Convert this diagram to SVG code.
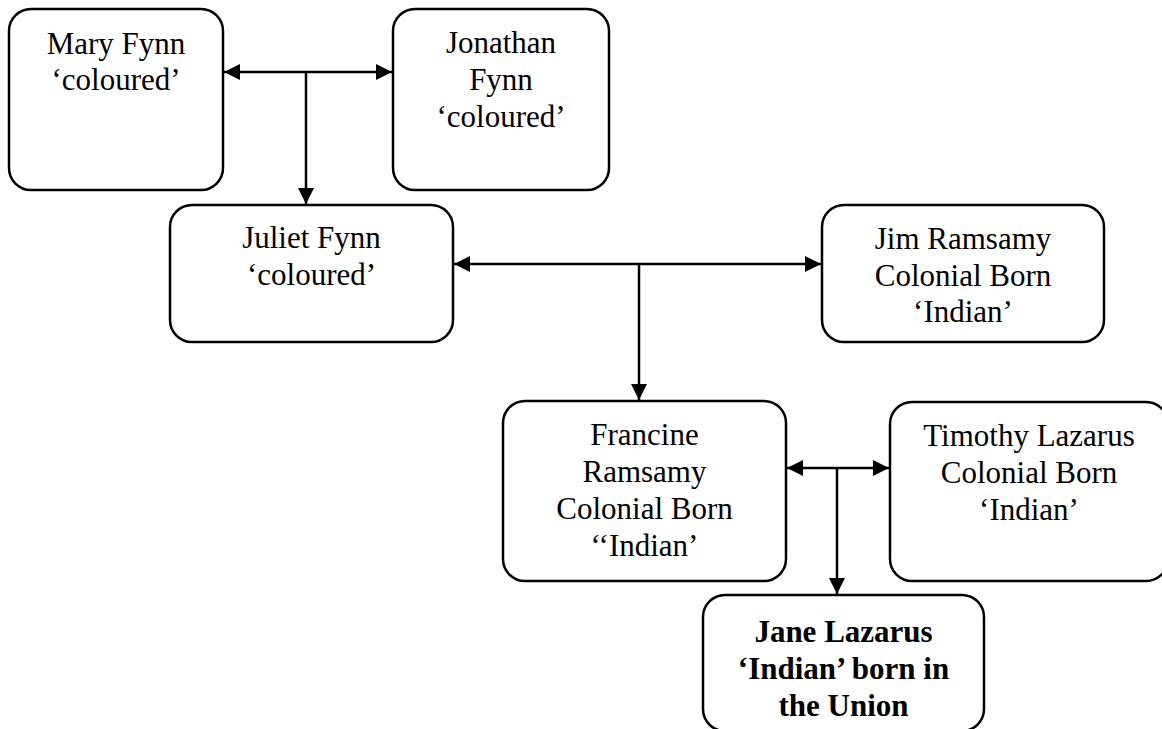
<svg xmlns="http://www.w3.org/2000/svg" width="1162" height="729" viewBox="0 0 1162 729">
<style>
.box{fill:#fff;stroke:#000;stroke-width:2.5}
.t{font-family:"Liberation Serif","Times New Roman",serif;font-size:31px;fill:#000;text-anchor:middle}
.b{font-weight:bold}
.c{stroke:#000;stroke-width:2.5;fill:none}
</style>
<defs>
<marker id="ah" viewBox="0 0 16 16" refX="16" refY="8" markerWidth="16" markerHeight="16" markerUnits="userSpaceOnUse" orient="auto-start-reverse">
<path d="M0,0 L16,8 L0,16 Z" fill="#000"/>
</marker>
</defs>
<rect width="1162" height="729" fill="#fff"/>
<g id="mary">
<rect class="box" x="9" y="9" width="214" height="181" rx="22"/>
<text class="t" x="116" y="54">Mary Fynn</text>
<text class="t" x="116" y="90">‘coloured’</text>
</g>
<g id="jonathan">
<rect class="box" x="393" y="9" width="216" height="181" rx="22"/>
<text class="t" x="501" y="53">Jonathan</text>
<text class="t" x="501" y="90">Fynn</text>
<text class="t" x="501" y="127">‘coloured’</text>
</g>
<g id="juliet">
<rect class="box" x="170" y="205" width="283" height="137" rx="22"/>
<text class="t" x="311.5" y="248">Juliet Fynn</text>
<text class="t" x="311.5" y="285">‘coloured’</text>
</g>
<g id="jim">
<rect class="box" x="822" y="205" width="282" height="137" rx="22"/>
<text class="t" x="963" y="249">Jim Ramsamy</text>
<text class="t" x="963" y="286">Colonial Born</text>
<text class="t" x="963" y="322">‘Indian’</text>
</g>
<g id="francine">
<rect class="box" x="503" y="401" width="283" height="180" rx="22"/>
<text class="t" x="644.5" y="445">Francine</text>
<text class="t" x="644.5" y="482">Ramsamy</text>
<text class="t" x="644.5" y="519">Colonial Born</text>
<text class="t" x="644.5" y="556">‘‘Indian’</text>
</g>
<g id="timothy">
<rect class="box" x="890" y="402" width="278" height="179" rx="22"/>
<text class="t" x="1029" y="446">Timothy Lazarus</text>
<text class="t" x="1029" y="483">Colonial Born</text>
<text class="t" x="1029" y="520">‘Indian’</text>
</g>
<g id="jane">
<rect class="box" x="703" y="595" width="281" height="136" rx="22"/>
<text class="t b" x="843.5" y="642">Jane Lazarus</text>
<text class="t b" x="843.5" y="679">‘Indian’ born in</text>
<text class="t b" x="843.5" y="716">the Union</text>
</g>
<g id="connectors">
<line class="c" x1="224" y1="72" x2="392" y2="72" marker-start="url(#ah)" marker-end="url(#ah)"/>
<line class="c" x1="306" y1="72" x2="306" y2="204" marker-end="url(#ah)"/>
<line class="c" x1="454" y1="264" x2="821" y2="264" marker-start="url(#ah)" marker-end="url(#ah)"/>
<line class="c" x1="639" y1="264" x2="639" y2="400" marker-end="url(#ah)"/>
<line class="c" x1="787" y1="468" x2="889" y2="468" marker-start="url(#ah)" marker-end="url(#ah)"/>
<line class="c" x1="837" y1="468" x2="837" y2="594" marker-end="url(#ah)"/>
</g>
</svg>
